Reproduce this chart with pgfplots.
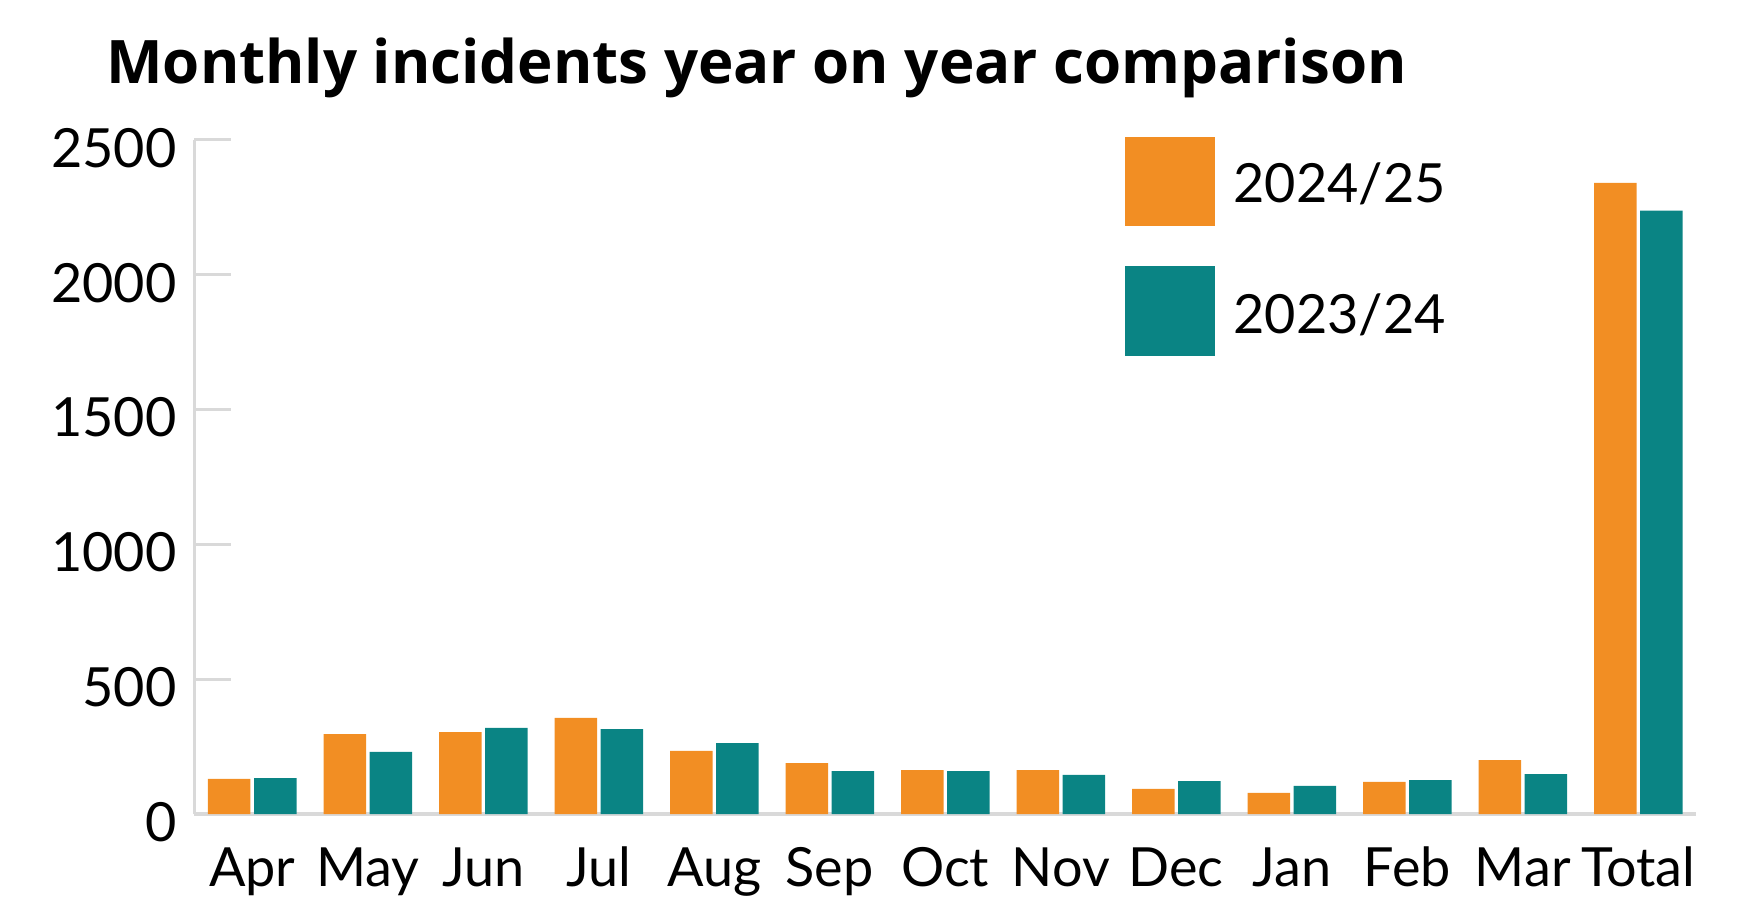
\documentclass[border=0pt]{standalone}
\usepackage{fontspec}
\setmainfont{Lato}
\newfontfamily\titlefont{Open Sans}
\usepackage{pgfplots}
\pgfplotsset{compat=1.18}
\usepackage{pgfplotstable}

\definecolor{barorange}{RGB}{242,142,35}
\definecolor{barteal}{RGB}{10,132,132}
\definecolor{axisgrey}{RGB}{217,217,217}

% index, month, 2024/25, 2023/24
\pgfplotstableread{
idx month cur prev
0  Apr   130  133
1  May   296  230
2  Jun   304  319
3  Jul   356  315
4  Aug   234  263
5  Sep   189  159
6  Oct   163  159
7  Nov   163  145
8  Dec    93  122
9  Jan    78  104
10 Feb   119  126
11 Mar   200  148
12 Total 2340 2237
}\incidents

\begin{document}
\begin{tikzpicture}
\useasboundingbox (0,0) rectangle (876.5pt,459pt);

\begin{axis}[
  at={(97.25pt,52pt)}, anchor=south west,
  scale only axis,
  width=750.75pt, height=337.1pt,
  xmin=-0.5, xmax=12.5,
  ymin=0, ymax=2500,
  axis lines=left,
  axis line style={-, axisgrey, line width=1.6pt},
  xtick=data,
  xticklabels={Apr,May,Jun,Jul,Aug,Sep,Oct,Nov,Dec,Jan,Feb,Mar,Total},
  x tick style={draw=none},
  ytick={0,500,1000,1500,2000,2500},
  y tick style={axisgrey, line width=1.6pt},
  tick align=inside,
  major tick length=18.5pt,
  xticklabel style={anchor=base, yshift=-17.8pt, font=\fontsize{27}{30}\selectfont},
  yticklabel style={anchor=east, xshift=-5.5pt, yshift=-4pt, font=\fontsize{27}{30}\selectfont},
  /pgf/number format/assume math mode=true,
  /pgf/number format/1000 sep={},
  ybar,
  bar width=21.25pt,
  clip=false,
]
\addplot[fill=barorange, draw=none, bar shift=-11.5pt] table[x=idx, y=cur] {\incidents};
\addplot[fill=barteal, draw=none, bar shift=11.5pt] table[x=idx, y=prev] {\incidents};
\end{axis}

% title
\node[anchor=base west, inner sep=0pt, font=\titlefont\fontsize{30}{34}\selectfont\bfseries]
  at (53pt,417pt) {Monthly incidents year on year comparison};

% legend
\fill[barorange] (562.5pt,346pt) rectangle (607.5pt,390.5pt);
\fill[barteal] (562.5pt,281pt) rectangle (607.5pt,326pt);
\node[anchor=base west, inner sep=0pt, font=\fontsize{27}{30}\selectfont] at (616.5pt,357.5pt) {2024/25};
\node[anchor=base west, inner sep=0pt, font=\fontsize{27}{30}\selectfont] at (616.5pt,292.5pt) {2023/24};
\end{tikzpicture}
\end{document}
